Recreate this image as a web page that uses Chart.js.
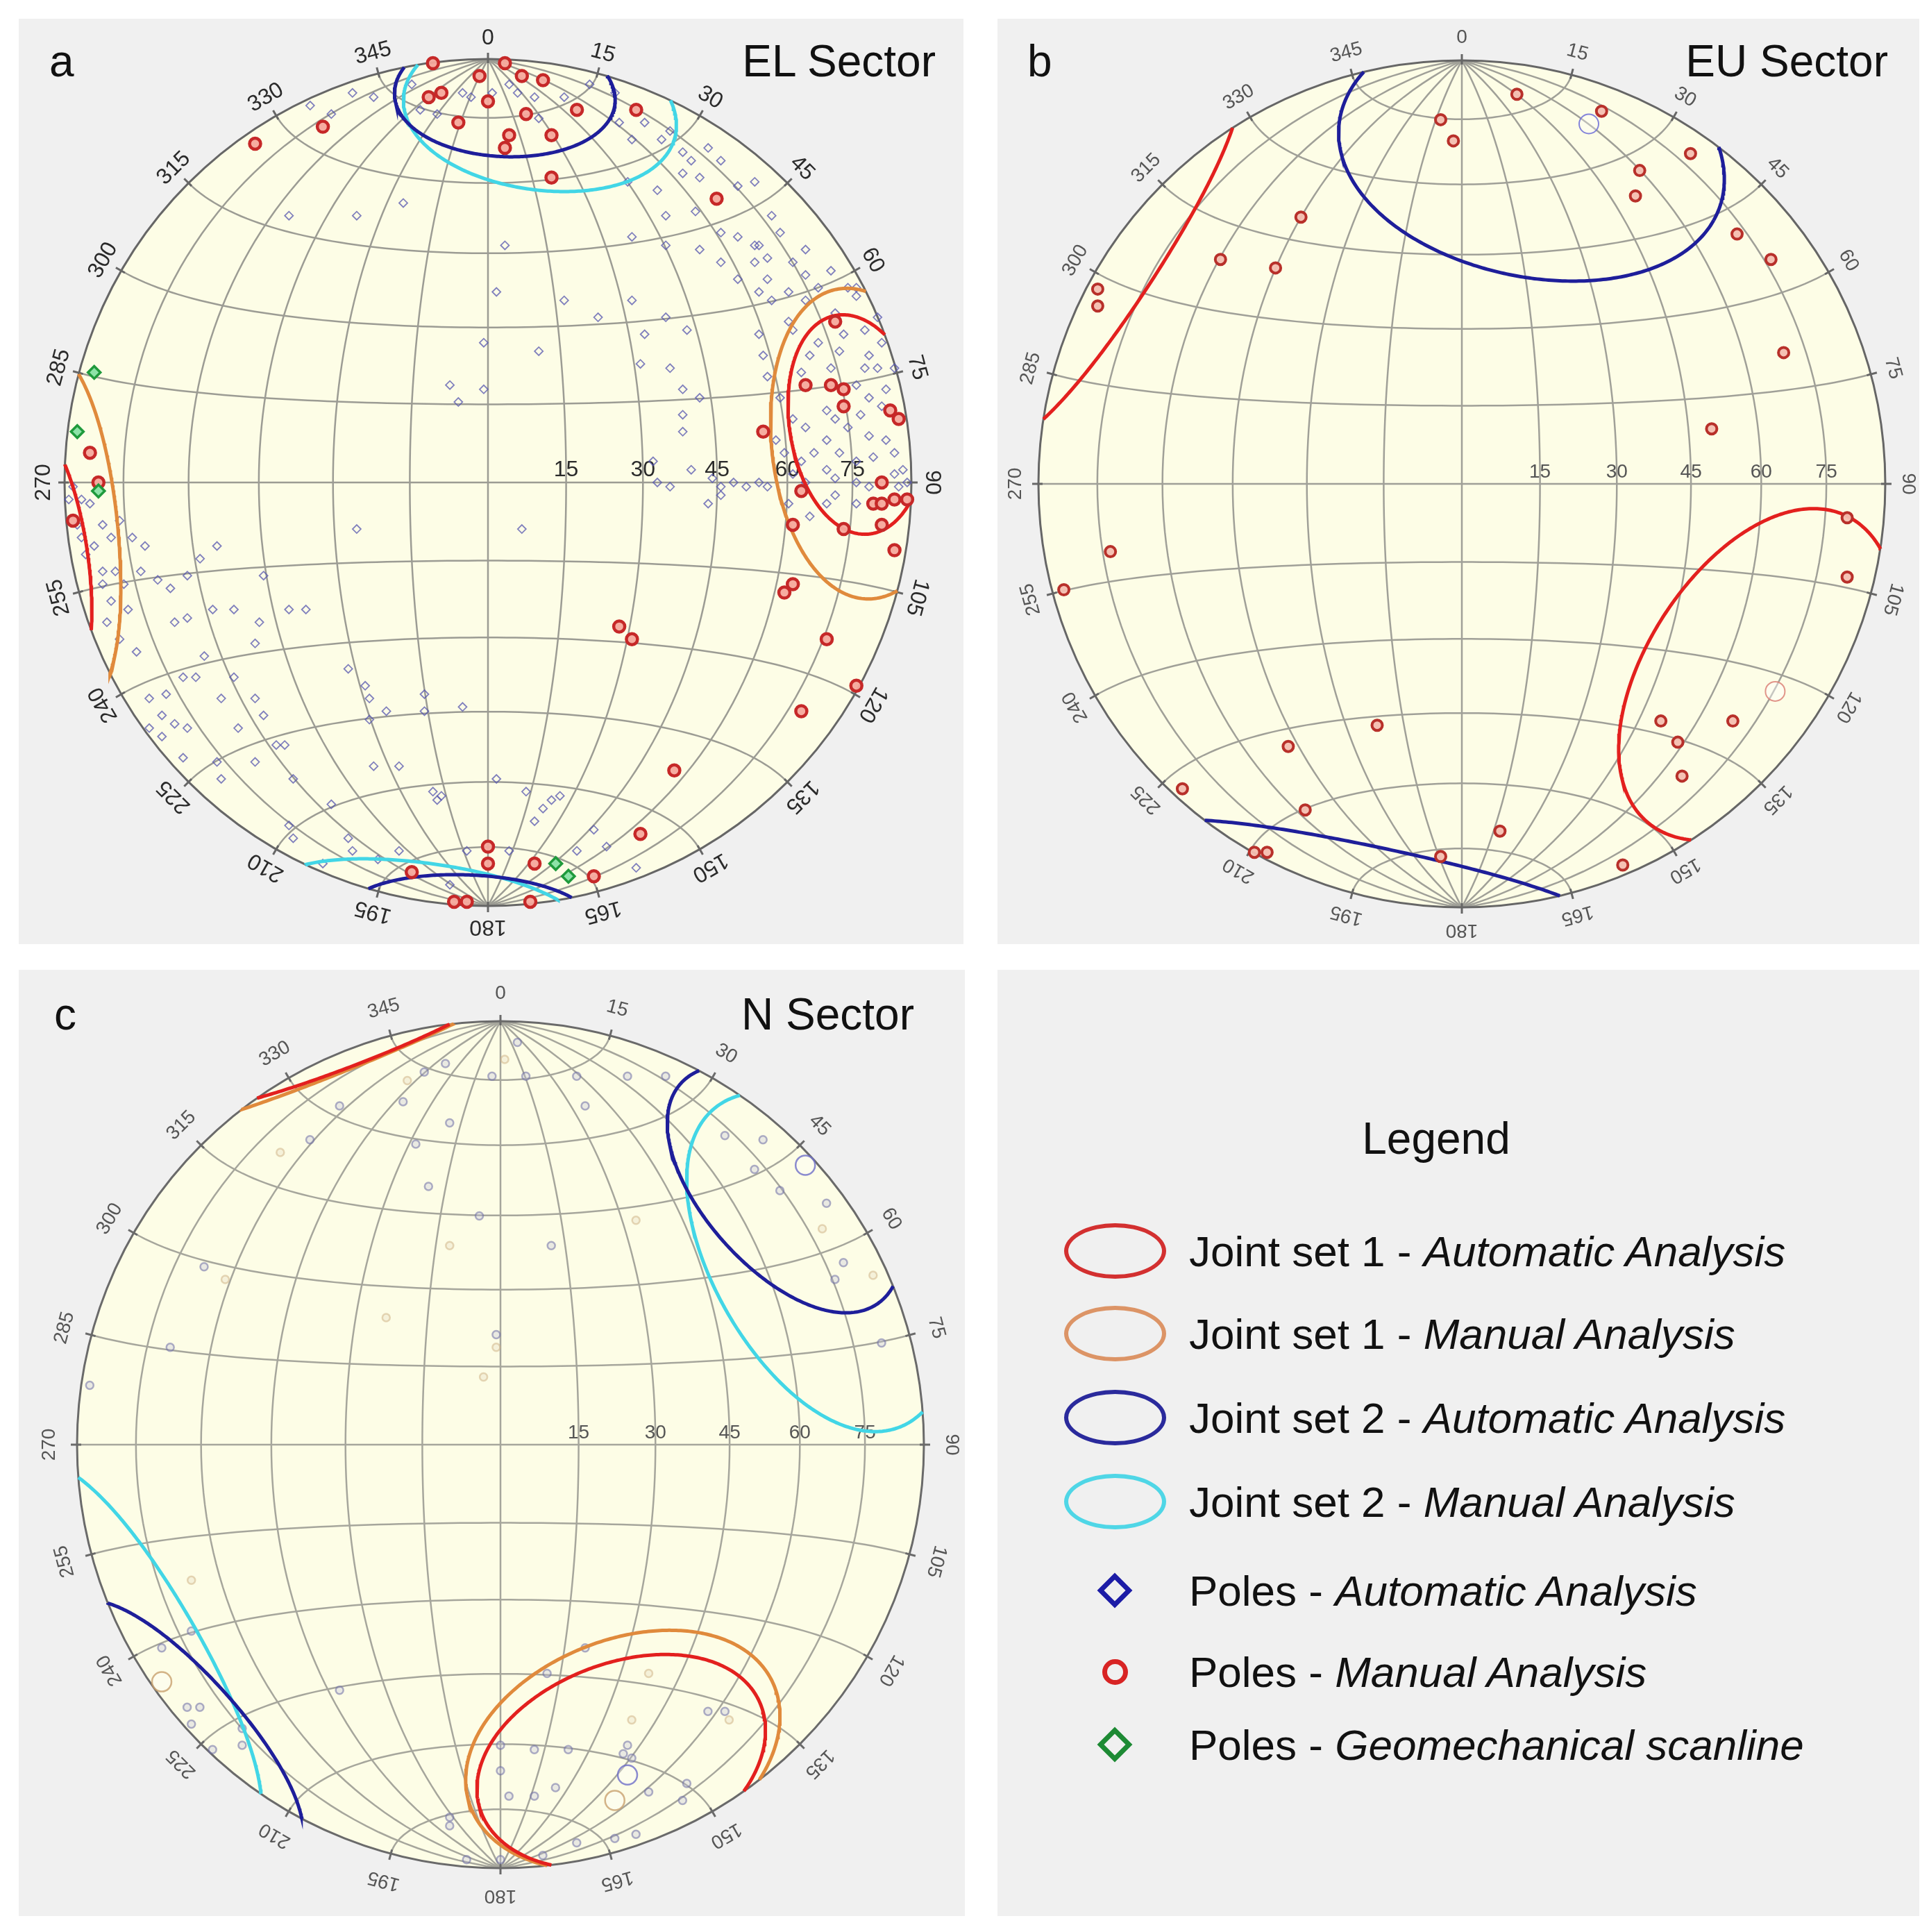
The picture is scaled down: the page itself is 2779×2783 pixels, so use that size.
<!DOCTYPE html>
<html>
<head>
<meta charset="utf-8">
<title>Stereonets - EL, EU and N sectors</title>
<script src="https://cdn.jsdelivr.net/npm/chart.js@4.4.0/dist/chart.umd.min.js"></script>
<style>
  body { margin: 0; background: #fff; width: 2779px; height: 2783px; position: relative; overflow: hidden;
         font-family: "Liberation Sans", Arial, sans-serif; color: #111; }
  .panel { position: absolute; background: #f0f0f0; }
  .panel canvas { position: absolute; left: 0; top: 0; }
  .letter, .title { position: absolute; font-size: 64px; line-height: 64px; white-space: nowrap; }
  .legend-title { position: absolute; font-size: 64px; line-height: 64px; transform: translateX(-50%); }
  .row { position: absolute; left: 276px; font-size: 62px; line-height: 62px; white-space: nowrap; }
  .icon { position: absolute; box-sizing: border-box; }
  .ell { width: 147px; height: 80px; border-radius: 50%; border: 6px solid; }
  .dia { width: 36px; height: 36px; border: 7px solid; transform: rotate(45deg); }
  .dot { width: 37px; height: 37px; border-radius: 50%; border: 7px solid; }
</style>
</head>
<body>

<div class="panel" id="pa" style="left:27px; top:27px; width:1361px; height:1333px;">
  <canvas id="netA" width="1361" height="1333"></canvas>
  <div class="letter" style="left:44px; top:29px;">a</div>
  <div class="title" style="right:40px; top:29px;">EL Sector</div>
</div>

<div class="panel" id="pb" style="left:1437px; top:27px; width:1328px; height:1333px;">
  <canvas id="netB" width="1328" height="1333"></canvas>
  <div class="letter" style="left:43px; top:29px;">b</div>
  <div class="title" style="right:45px; top:29px;">EU Sector</div>
</div>

<div class="panel" id="pc" style="left:27px; top:1397px; width:1363px; height:1363px;">
  <canvas id="netC" width="1363" height="1363"></canvas>
  <div class="letter" style="left:51px; top:32px;">c</div>
  <div class="title" style="right:73px; top:32px;">N Sector</div>
</div>

<div class="panel" id="pd" style="left:1437px; top:1397px; width:1328px; height:1363px;">
  <div class="legend-title" style="left:632px; top:211px;">Legend</div>

  <div class="icon ell" style="left:96px; top:365px; border-color:#d33030;"></div>
  <div class="row" style="top:375px;">Joint set 1 - <i>Automatic Analysis</i></div>

  <div class="icon ell" style="left:96px; top:484px; border-color:#dc9466;"></div>
  <div class="row" style="top:494px;">Joint set 1 - <i>Manual Analysis</i></div>

  <div class="icon ell" style="left:96px; top:605px; border-color:#2a2a9c;"></div>
  <div class="row" style="top:615px;">Joint set 2 - <i>Automatic Analysis</i></div>

  <div class="icon ell" style="left:96px; top:726px; border-color:#4fd6e6;"></div>
  <div class="row" style="top:736px;">Joint set 2 - <i>Manual Analysis</i></div>

  <div class="icon dia" style="left:151px; top:876px; border-color:#1c1ca6;"></div>
  <div class="row" style="top:864px;">Poles - <i>Automatic Analysis</i></div>

  <div class="icon dot" style="left:151px; top:993px; border-color:#d82424;"></div>
  <div class="row" style="top:981px;">Poles - <i>Manual Analysis</i></div>

  <div class="icon dia" style="left:151px; top:1098px; border-color:#1d8a34;"></div>
  <div class="row" style="top:1086px;">Poles - <i>Geomechanical scanline</i></div>
</div>

<script>
// ---- net ticks ----
const azimuthTicks = [0, 15, 30, 45, 60, 75, 90, 105, 120, 135, 150, 165, 180, 195, 210, 225, 240, 255, 270, 285, 300, 315, 330, 345];
const dipTicks = [15, 30, 45, 60, 75];
const netSteps = [-75, -60, -45, -30, -15, 0, 15, 30, 45, 60, 75];

// ---- panel a : EL sector (poles as [east, north] in % of the net radius) ----
const elManualPoles = [[-13,99],[-2,96],[4,99],[8,96],[13,95],[-14,91],[-11,92],[0,90],[9,87],[21,88],[35,88],[-7,85],[5,82],[15,82],[4,79],[15,72],[-39,84],[-55,80],[54,67],[82,38],[75,23],[81,23],[84,22],[84,18],[95,17],[97,15],[65,12],[93,0],[74,-2],[91,-5],[93,-5],[96,-4],[99,-4],[72,-10],[84,-11],[93,-10],[96,-16],[70,-26],[72,-24],[80,-37],[87,-48],[74,-54],[31,-34],[34,-37],[44,-68],[36,-83],[25,-93],[0,-86],[0,-90],[11,-90],[-8,-99],[-5,-99],[10,-99],[-94,7],[-92,0],[-98,-9],[-18,-92]];
const elAutoPoles = [[-18,94],[-16,88],[-12,87],[-6,92],[-4,91],[1,92],[5,94],[7,92],[11,91],[12,86],[18,91],[24,94],[30,92],[31,85],[37,85],[34,81],[-27,91],[-32,92],[-37,87],[-42,89],[41,81],[43,83],[46,78],[48,76],[52,79],[55,76],[46,73],[50,72],[40,69],[33,71],[42,63],[49,64],[55,59],[59,70],[63,71],[67,63],[64,56],[69,59],[72,52],[75,55],[66,53],[63,56],[59,58],[66,48],[71,45],[75,49],[78,46],[81,50],[75,43],[85,46],[87,44],[82,40],[84,35],[89,36],[90,30],[93,33],[96,27],[92,27],[89,27],[87,23],[90,20],[93,18],[88,16],[85,13],[82,15],[80,17],[90,11],[94,10],[96,7],[91,6],[87,5],[83,7],[80,10],[75,13],[77,7],[74,5],[70,7],[68,10],[72,2],[75,0],[80,3],[82,1],[87,0],[90,-1],[96,2],[98,3],[97,-1],[82,-3],[87,-5],[80,-5],[76,-8],[71,-5],[66,-1],[64,0],[61,-1],[58,0],[55,-1],[53,1],[48,3],[43,-1],[40,0],[39,5],[46,12],[46,16],[50,20],[46,22],[43,27],[36,28],[37,35],[47,36],[42,39],[34,43],[26,39],[18,43],[12,31],[-1,33],[-1,22],[-9,23],[-7,19],[2,45],[4,56],[-20,66],[-31,63],[-47,63],[34,58],[42,56],[50,55],[55,52],[59,48],[63,52],[64,45],[67,43],[71,38],[72,36],[64,35],[65,30],[66,25],[69,20],[72,15],[81,27],[83,31],[78,33],[76,30],[74,26],[92,39],[94,22],[8,-11],[-31,-11],[52,-5],[55,-3],[87,46],[99,0],[-98,-1],[-99,-4],
  [-87,-9],[-84,-13],[-81,-15],[-82,-21],[-78,-23],[-75,-25],[-68,-18],[-64,-15],[-71,-22],[-86,-24],[-89,-28],[-90,-33],[-87,-37],[-83,-40],[-74,-33],[-71,-32],[-60,-30],[-53,-22],[-47,-30],[-43,-30],[-54,-33],[-55,-38],[-67,-41],[-72,-46],[-69,-46],[-76,-50],[-80,-58],[-77,-60],[-74,-57],[-71,-58],[-72,-65],[-63,-51],[-60,-46],[-55,-51],[-53,-55],[-48,-62],[-59,-58],[-55,-66],[-63,-70],[-64,-66],[-47,-81],[-46,-84],[-39,-90],[-33,-84],[-37,-76],[-33,-44],[-29,-48],[-28,-51],[-28,-56],[-24,-54],[-27,-67],[-21,-67],[-15,-50],[-15,-54],[-6,-53],[-13,-73],[-11,-74],[2,-70],[9,-73],[13,-77],[17,-74],[11,-80],[25,-82],[35,-91],[-46,-70],[-50,-62],[-80,-51],[-77,-55],[-91,-10],[-89,-13],[-96,-4],[-94,-5],[-93,-15],[-91,-21],[-88,-21],[-91,-24],[-85,-30],[-65,-30],[21,-87],[28,-86],[-97,-10],[-96,-13],[-95,-17],[-12,-75],[15,-75],[-5,-87],[5,-87],[-9,-95],[-26,-89],[-21,-87],[-32,-87]];
const elScanlinePoles = [[-93,26],[-97,12],[-92,-2],[16,-90],[19,-93]];
// cones: [trend, plunge, half apical angle] in degrees
const elSet1Auto = [81, 12, 16.5];
const elSet1Manual = [84, 10, 23];
const elSet2Auto = [2.5, 8, 16];
const elSet2Manual = [8, 10.4, 20.3];

// ---- panel b : EU sector ----
const euManualPoles = [[13,92],[-5,86],[-2,81],[33,88],[54,78],[42,74],[41,68],[-38,63],[-57,53],[-44,51],[-86,46],[-86,42],[65,59],[73,53],[76,31],[59,13],[91,-8],[91,-22],[-83,-16],[-94,-25],[47,-56],[51,-61],[52,-69],[64,-56],[-20,-57],[-41,-62],[-66,-72],[-37,-77],[9,-82],[-5,-88],[-49,-87],[-46,-87],[38,-90]];
const euMeanAuto = [[30,85]];
const euMeanManual = [[74,-49]];
const euSet1Auto = [123, 14.5, 28];
const euSet2Auto = [12, 17.5, 30.5];

// ---- panel c : N sector ----
const nAutoPoles = [[4,95],[-2,87],[6,87],[18,87],[30,87],[39,87],[20,80],[-13,90],[-18,88],[-23,81],[-12,76],[-20,71],[-38,80],[-45,72],[-17,61],[-5,54],[12,47],[53,73],[62,72],[60,65],[66,60],[77,57],[81,43],[79,39],[90,24],[-1,26],[-70,42],[-78,23],[-97,14],[-38,-58],[-73,-44],[-80,-48],[-74,-62],[-71,-62],[-73,-66],[-68,-72],[-61,-67],[-61,-71],[0,-71],[8,-72],[16,-72],[0,-77],[13,-81],[2,-83],[8,-83],[30,-71],[29,-73],[31,-74],[35,-82],[44,-80],[43,-84],[49,-63],[53,-63],[20,-48],[11,-54],[-12,-88],[-12,-90],[18,-94],[32,-92],[27,-93],[10,-97],[-8,-98],[0,-98]];
const nManualPoles = [[1,91],[-22,86],[-52,69],[-12,47],[-65,39],[-27,30],[-1,23],[-4,16],[32,53],[76,51],[88,40],[35,-54],[-73,-32],[31,-65],[54,-65]];
const nMeanAuto = [[72,66],[30,-78]];
const nMeanManual = [[-80,-56],[27,-84]];
const nSet1Auto = [159, 19, 23.5];
const nSet1Manual = [158, 21, 26];
const nSet2Auto = [48, 8, 21.5];
const nSet2Manual = [60, 10.5, 27.5];

// ---- geometry helpers (lower hemisphere, equal-area) ----
const rad = d => d * Math.PI / 180;

function project(e, n, d) {
  const k = 1 / Math.sqrt(1 + d);
  return { x: e * k, y: n * k };
}

function toPoints(list) {
  return list.map(p => ({ x: p[0] / 100, y: p[1] / 100 }));
}

// small circle around a cone axis; upper part is folded to the opposite side
function conePoints(cone) {
  const t = rad(cone[0]), p = rad(cone[1]), a = rad(cone[2]);
  const ax = [Math.cos(p) * Math.sin(t), Math.cos(p) * Math.cos(t), Math.sin(p)];
  const u = [Math.cos(t), -Math.sin(t), 0];
  const w = [ax[1] * u[2] - ax[2] * u[1], ax[2] * u[0] - ax[0] * u[2], ax[0] * u[1] - ax[1] * u[0]];
  const out = [];
  let prev = null;
  for (let b = 0; b <= 360; b += 1) {
    const br = rad(b);
    const v = ax.map((c, i) => Math.cos(a) * c + Math.sin(a) * (Math.cos(br) * u[i] + Math.sin(br) * w[i]));
    if (prev && (prev[2] >= 0) !== (v[2] >= 0)) {
      const f = prev[2] / (prev[2] - v[2]);
      const c = prev.map((q, i) => q + f * (v[i] - q));
      const len = Math.hypot(c[0], c[1]);
      const s = prev[2] >= 0 ? 1 : -1;
      out.push({ x: s * c[0] / len, y: s * c[1] / len });
      out.push({ x: 0, y: null });
      out.push({ x: -s * c[0] / len, y: -s * c[1] / len });
    }
    const s = v[2] >= 0 ? 1 : -1;
    out.push(project(s * v[0], s * v[1], s * v[2]));
    prev = v;
  }
  return out;
}

// the Schmidt net itself, drawn behind the datasets
const netPlugin = {
  id: 'net',
  beforeDatasetsDraw(chart, args, o) {
    const ctx = chart.ctx;
    const xs = chart.scales.x, ys = chart.scales.y;
    const px = v => xs.getPixelForValue(v), py = v => ys.getPixelForValue(v);
    const cx = px(0), cy = py(0), rx = px(1) - cx, ry = cy - py(1);

    ctx.save();
    ctx.beginPath();
    ctx.ellipse(cx, cy, rx, ry, 0, 0, 2 * Math.PI);
    ctx.fillStyle = o.fill;
    ctx.fill();

    ctx.strokeStyle = o.grid;
    ctx.lineWidth = o.gridWidth;
    const curve = fn => {
      ctx.beginPath();
      for (let k = -90; k <= 90; k += 2) {
        const q = fn(rad(k));
        const pt = project(q[0], q[1], q[2]);
        if (k === -90) ctx.moveTo(px(pt.x), py(pt.y)); else ctx.lineTo(px(pt.x), py(pt.y));
      }
      ctx.stroke();
    };
    netSteps.forEach(s => {
      const g = rad(s);
      // meridian (great circle through N and S)
      curve(f => [Math.cos(f) * Math.sin(g), Math.sin(f), Math.cos(f) * Math.cos(g)]);
      // parallel (small circle about the N-S axis)
      curve(l => [Math.cos(g) * Math.sin(l), Math.sin(g), Math.cos(g) * Math.cos(l)]);
    });

    ctx.beginPath();
    ctx.ellipse(cx, cy, rx, ry, 0, 0, 2 * Math.PI);
    ctx.strokeStyle = o.rim;
    ctx.lineWidth = 3;
    ctx.stroke();

    ctx.fillStyle = o.text;
    ctx.font = o.font + 'px "Liberation Sans", Arial, sans-serif';
    ctx.textAlign = 'center';
    azimuthTicks.forEach(az => {
      const r = rad(az), sn = Math.sin(r), cs = Math.cos(r);
      ctx.beginPath();
      ctx.moveTo(cx + (rx - 6) * sn, cy - (ry - 6) * cs);
      ctx.lineTo(cx + (rx + 9) * sn, cy - (ry + 9) * cs);
      ctx.stroke();
      ctx.save();
      ctx.translate(cx + (rx + o.labelGap) * sn, cy - (ry + o.labelGap) * cs);
      ctx.rotate(r);
      ctx.textBaseline = 'middle';
      ctx.fillText(String(az), 0, 0);
      ctx.restore();
    });

    ctx.textBaseline = 'alphabetic';
    dipTicks.forEach(d => {
      const r = Math.SQRT2 * Math.sin(rad(d) / 2);
      ctx.fillText(String(d), px(r), cy - 9);
    });
    ctx.restore();
  }
};

function cone(c, color) {
  return { type: 'scatter', data: conePoints(c), showLine: true, borderColor: color, borderWidth: 5,
           pointRadius: 0, fill: false, tension: 0, clip: false };
}

function poles(list, style, radius, width, stroke, fillColor) {
  return { type: 'scatter', data: toPoints(list), showLine: false, pointStyle: style, pointRadius: radius,
           pointBorderWidth: width, pointBorderColor: stroke, pointBackgroundColor: fillColor, clip: false };
}

function makeNet(id, padding, datasets, look) {
  new Chart(document.getElementById(id), {
    type: 'scatter',
    data: { datasets: datasets },
    options: {
      responsive: false,
      animation: false,
      devicePixelRatio: 1,
      layout: { padding: padding },
      scales: {
        x: { type: 'linear', min: -1, max: 1, display: false },
        y: { type: 'linear', min: -1, max: 1, display: false }
      },
      plugins: { legend: { display: false }, tooltip: { enabled: false }, net: look }
    },
    plugins: [netPlugin]
  });
}

const RED = '#e3201e', ORANGE = '#e08a3c', BLUE = '#1e1e9a', CYAN = '#42d6e6';

makeNet('netA', { left: 66, top: 58, right: 75, bottom: 55 }, [
  poles(elScanlinePoles, 'rectRot', 9, 3.5, '#1f9a3c', '#8de3a8'),
  poles(elManualPoles, 'circle', 8, 4.5, '#c62828', 'rgba(246,168,156,0.95)'),
  cone(elSet1Auto, RED),
  cone(elSet1Manual, ORANGE),
  cone(elSet2Auto, BLUE),
  cone(elSet2Manual, CYAN),
  poles(elAutoPoles, 'rectRot', 6, 1.8, 'rgba(85,85,175,0.75)', 'rgba(255,255,255,0)')
], { fill: '#fdfde6', grid: '#9c9c94', gridWidth: 2.5, rim: '#666', text: '#2a2a2a', font: 32, labelGap: 30 });

makeNet('netB', { left: 59, top: 60, right: 49, bottom: 53 }, [
  poles(euManualPoles, 'circle', 7.5, 4, '#b8302a', 'rgba(244,190,176,0.95)'),
  poles(euMeanAuto, 'circle', 14, 2, 'rgba(110,110,215,0.85)', 'rgba(255,255,255,0.3)'),
  poles(euMeanManual, 'circle', 14, 2, 'rgba(220,130,120,0.85)', 'rgba(255,255,255,0.4)'),
  cone(euSet1Auto, RED),
  cone(euSet2Auto, BLUE)
], { fill: '#fdfde6', grid: '#a0a098', gridWidth: 2.5, rim: '#666', text: '#555', font: 28, labelGap: 33 });

makeNet('netC', { left: 84, top: 74, right: 59, bottom: 69 }, [
  cone(nSet1Auto, RED),
  cone(nSet1Manual, ORANGE),
  cone(nSet2Auto, BLUE),
  cone(nSet2Manual, CYAN),
  poles(nMeanAuto, 'circle', 14, 2.5, 'rgba(110,110,200,0.8)', 'rgba(255,255,255,0.3)'),
  poles(nMeanManual, 'circle', 14, 2.5, 'rgba(200,160,110,0.8)', 'rgba(255,255,255,0.3)'),
  poles(nAutoPoles, 'circle', 5.5, 2.5, 'rgba(110,110,165,0.55)', 'rgba(190,190,220,0.3)'),
  poles(nManualPoles, 'circle', 5.5, 2.5, 'rgba(205,175,130,0.5)', 'rgba(230,215,190,0.3)')
], { fill: '#fdfde6', grid: '#a6a69c', gridWidth: 2.5, rim: '#6a6a6a', text: '#555', font: 28, labelGap: 40 });
</script>
</body>
</html>
